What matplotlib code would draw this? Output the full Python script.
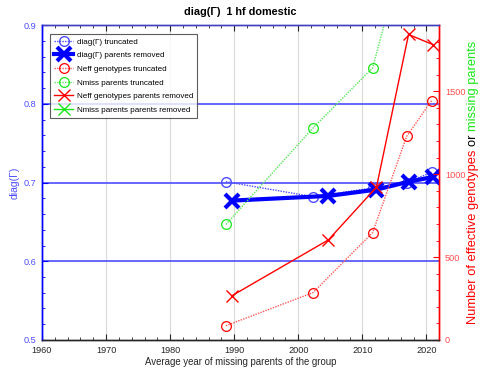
import numpy as np
import matplotlib
matplotlib.use("Agg")
import matplotlib.pyplot as plt
from matplotlib.ticker import MultipleLocator

plt.rcParams['font.family'] = ['Liberation Sans', 'DejaVu Sans']

# ---- data ----
years_trunc = [1988.7, 2002.3, 2011.6, 2016.9, 2020.8]
years_removed = [1989.6, 2004.7, 2012.2, 2017.2, 2021.0]
diag_trunc = [0.701, 0.682, 0.693, 0.700, 0.713]
diag_removed = [0.677, 0.683, 0.691, 0.701, 0.707]
neff_trunc = [86, 286, 648, 1228, 1444]
nmiss_trunc = [697, 1279, 1642, 2410, 2900]
neff_removed = [266, 604, 922, 1843, 1782]
nmiss_removed = [np.nan, np.nan, np.nan, np.nan, np.nan]

title = "diag(\u0393)  1 hf domestic"
xlabel = "Average year of missing parents of the group"
ylabel_left = "diag(\u0393)"
legend_labels = ["diag(\u0393) truncated", "diag(\u0393) parents removed",
                 "Neff genotypes truncated", "Nmiss parents truncated",
                 "Neff genotypes parents removed", "Nmiss parents parents removed"]

BLUE = (0, 0, 1)
LBLUE = (0.3, 0.3, 1)
RED = (1, 0, 0)
GREEN = (0.1, 0.9, 0.1)
DOT = (0, (1, 0.9))

fig = plt.figure(figsize=(4.82, 3.68), dpi=100)
ax = fig.add_axes([0.0871, 0.0761, 0.8243, 0.8559])
ax2 = ax.twinx()

ax.set_xlim(1960, 2022)
ax.set_ylim(0.5, 0.9)
ax2.set_ylim(0, 1900)

# grids
for x in range(1970, 2021, 10):
    ax.axvline(x, color=(0.85, 0.85, 0.85), lw=0.8, zorder=0)
for y in [0.6, 0.7, 0.8]:
    ax.axhline(y, color=LBLUE, lw=1.2, zorder=0.5)

h1, = ax.plot(years_trunc, diag_trunc, color=LBLUE, ls=DOT, lw=1.0, marker='o',
              ms=7, mfc='none', mec=LBLUE, mew=1.0, zorder=2)
h2, = ax.plot(years_removed, diag_removed, '-', color=BLUE, lw=3, marker='x',
              ms=10, mew=3, zorder=3)

h3, = ax2.plot(years_trunc, neff_trunc, color=(1, 0.35, 0.35), ls=DOT, lw=1.0, marker='o',
               ms=7, mfc='none', mec=RED, mew=0.9)
h4, = ax2.plot(years_trunc, nmiss_trunc, color=(0.35, 0.9, 0.35), ls=DOT, lw=1.0, marker='o',
               ms=7, mfc='none', mec=GREEN, mew=0.9)
h5, = ax2.plot(years_removed, neff_removed, '-', color=RED, lw=1.0, marker='x',
               ms=9, mew=1.0)
h6, = ax2.plot(years_removed, nmiss_removed, '-', color=GREEN, lw=1.0, marker='x',
               ms=9, mew=1.0)

# ticks
ax.set_xticks(range(1960, 2021, 10))
ax.xaxis.set_minor_locator(MultipleLocator(2))
ax.set_yticks([0.5, 0.6, 0.7, 0.8, 0.9])
ax.yaxis.set_minor_locator(MultipleLocator(0.02))
ax2.set_yticks([0, 500, 1000, 1500])
ax2.yaxis.set_minor_locator(MultipleLocator(100))

TS = 6.6
ax.tick_params(axis='x', which='both', direction='in', top=True, colors=(0.15, 0.15, 0.15),
               labelsize=TS, pad=4)
ax.tick_params(axis='x', which='major', length=4)
ax.tick_params(axis='x', which='minor', length=2)
ax.tick_params(axis='y', which='both', direction='in', colors=BLUE, labelcolor=LBLUE,
               labelsize=TS, pad=4)
ax.tick_params(axis='y', which='major', length=4)
ax.tick_params(axis='y', which='minor', length=2)
ax2.tick_params(axis='y', which='both', direction='in', colors=RED, labelcolor=(1, 0.3, 0.3),
                labelsize=TS, pad=4)
ax2.tick_params(axis='y', which='major', length=4)
ax2.tick_params(axis='y', which='minor', length=2)

ax.yaxis.set_major_formatter(matplotlib.ticker.FormatStrFormatter('%.1f'))

for a in (ax, ax2):
    a.spines['left'].set_color(BLUE)
    a.spines['right'].set_color(RED)
    a.spines['top'].set_color((0.25, 0.25, 0.75))
    a.spines['bottom'].set_color((0.15, 0.15, 0.15))
    for s in a.spines.values():
        s.set_linewidth(1.0)

ax.set_xlabel(xlabel, fontsize=6.9, color=(0.15, 0.15, 0.15), labelpad=2)
ax.set_ylabel(ylabel_left, fontsize=7.5, color=LBLUE, labelpad=3)
ax.set_title(title, fontsize=7.8, fontweight='bold', pad=7)

leg = ax2.legend([h1, h2, h3, h4, h5, h6], legend_labels, loc='upper left',
                 bbox_to_anchor=(0.02, 0.972), fontsize=5.8, frameon=True, fancybox=False,
                 edgecolor=(0.2, 0.2, 0.2), handlelength=2.4, handletextpad=0.4,
                 borderpad=0.5, labelspacing=0.75, borderaxespad=0)
leg.get_frame().set_linewidth(0.8)

# multi-coloured right label
fig.canvas.draw()
renderer = fig.canvas.get_renderer()
parts = [("Number of effective genotypes ", RED), ("or ", "black"), ("missing parents", GREEN)]
xfig = 0.981
tmp = []
for s, c in parts:
    t = fig.text(xfig, 0, s, rotation=90, color=c, fontsize=9.3, ha='center', va='bottom')
    tmp.append(t)
fig.canvas.draw()
heights = [t.get_window_extent(renderer).height / fig.bbox.height for t in tmp]
total = sum(heights)
center = 0.0761 + 0.8559 / 2
y0 = center - total / 2
for t, h in zip(tmp, heights):
    t.set_y(y0)
    y0 += h

fig.savefig("out.png", dpi=100)
